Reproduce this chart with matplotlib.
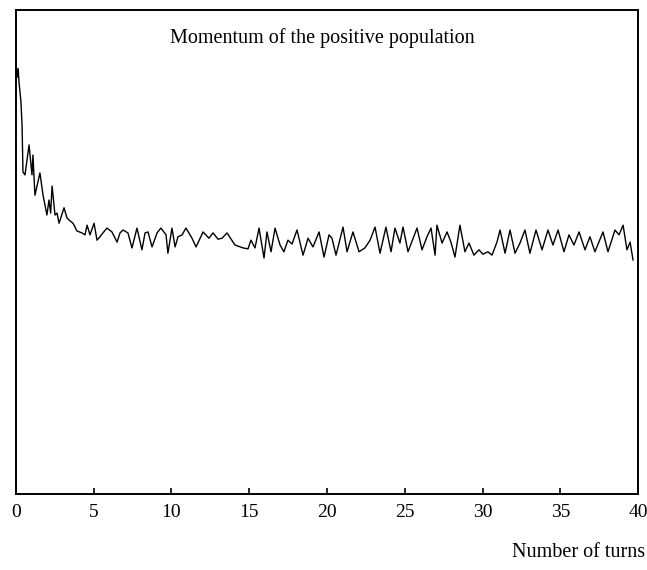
import matplotlib

matplotlib.use("Agg")
import matplotlib.pyplot as plt

# Number of turns and momentum (arbitrary units, axis spans 0..1)
turns = [
    0.00, 0.08, 0.14, 0.20, 0.32, 0.39, 0.45, 0.58, 0.84, 1.03,
    1.09, 1.22, 1.54, 1.74, 1.99, 2.12, 2.23, 2.32, 2.51, 2.64,
    2.77, 3.09, 3.28, 3.47, 3.67, 3.92, 4.24, 4.44, 4.57, 4.76,
    5.02, 5.21, 5.40, 5.59, 5.85, 6.17, 6.50, 6.69, 6.88, 7.20,
    7.46, 7.78, 8.10, 8.30, 8.49, 8.75, 9.07, 9.32, 9.65, 9.77,
    10.03, 10.23, 10.42, 10.68, 10.93, 11.32, 11.58, 12.03, 12.41, 12.67,
    12.99, 13.25, 13.57, 14.08, 14.60, 14.92, 15.11, 15.37, 15.63, 15.95,
    16.14, 16.40, 16.66, 16.98, 17.23, 17.49, 17.75, 18.07, 18.46, 18.78,
    19.10, 19.49, 19.81, 20.13, 20.32, 20.58, 21.03, 21.29, 21.67, 22.06,
    22.44, 22.77, 23.09, 23.41, 23.79, 24.12, 24.37, 24.69, 24.89, 25.21,
    25.79, 26.11, 26.43, 26.69, 26.95, 27.07, 27.40, 27.72, 27.97, 28.23,
    28.55, 28.87, 29.13, 29.45, 29.77, 30.03, 30.35, 30.61, 30.93, 31.13,
    31.45, 31.77, 32.09, 32.41, 32.73, 33.05, 33.44, 33.83, 34.21, 34.53,
    34.86, 35.24, 35.56, 35.88, 36.21, 36.59, 36.91, 37.23, 37.75, 38.07,
    38.52, 38.78, 39.04, 39.29, 39.49, 39.68,
]
momentum = [
    0.891, 0.862, 0.880, 0.850, 0.811, 0.763, 0.666, 0.660, 0.722, 0.660,
    0.701, 0.618, 0.664, 0.618, 0.577, 0.608, 0.581, 0.637, 0.577, 0.581,
    0.560, 0.592, 0.571, 0.565, 0.560, 0.544, 0.540, 0.536, 0.556, 0.536,
    0.560, 0.525, 0.532, 0.540, 0.550, 0.542, 0.521, 0.540, 0.546, 0.540,
    0.509, 0.550, 0.505, 0.540, 0.542, 0.511, 0.540, 0.550, 0.536, 0.498,
    0.550, 0.511, 0.532, 0.536, 0.550, 0.529, 0.511, 0.542, 0.529, 0.540,
    0.527, 0.529, 0.540, 0.515, 0.509, 0.507, 0.525, 0.509, 0.550, 0.488,
    0.542, 0.501, 0.550, 0.515, 0.501, 0.525, 0.517, 0.546, 0.494, 0.529,
    0.511, 0.542, 0.490, 0.536, 0.529, 0.494, 0.552, 0.501, 0.542, 0.501,
    0.509, 0.525, 0.552, 0.498, 0.552, 0.501, 0.550, 0.519, 0.552, 0.501,
    0.550, 0.505, 0.532, 0.550, 0.494, 0.556, 0.519, 0.542, 0.521, 0.490,
    0.556, 0.501, 0.519, 0.494, 0.505, 0.496, 0.501, 0.494, 0.521, 0.546,
    0.498, 0.546, 0.498, 0.519, 0.546, 0.498, 0.546, 0.505, 0.546, 0.515,
    0.546, 0.501, 0.536, 0.515, 0.542, 0.505, 0.532, 0.501, 0.542, 0.501,
    0.546, 0.536, 0.556, 0.505, 0.521, 0.484,
]
x_ticks = [0, 5, 10, 15, 20, 25, 30, 35, 40]

plt.rcParams["font.family"] = ["Liberation Serif", "DejaVu Serif"]

fig = plt.figure(figsize=(6.47, 5.70), dpi=100)
ax = fig.add_axes([0.0247, 0.1333, 0.9614, 0.8483])

ax.plot(turns, momentum, color="black", linewidth=1.0)

ax.set_xlim(0, 40)
ax.set_ylim(0, 1)
ax.set_xticks(x_ticks)
ax.set_xticklabels([str(t) for t in x_ticks])
ax.set_yticks([])
ax.tick_params(axis="x", direction="in", length=4, width=1.2, pad=7, labelsize=14)
for spine in ax.spines.values():
    spine.set_linewidth(1.4)

ax.text(0.492, 0.943, "Momentum of the positive population", transform=ax.transAxes,
        ha="center", va="center", fontsize=14.5)
fig.text(0.997, 0.030, "Number of turns", ha="right", va="center", fontsize=14.5)

fig.savefig("out.png", dpi=100)
